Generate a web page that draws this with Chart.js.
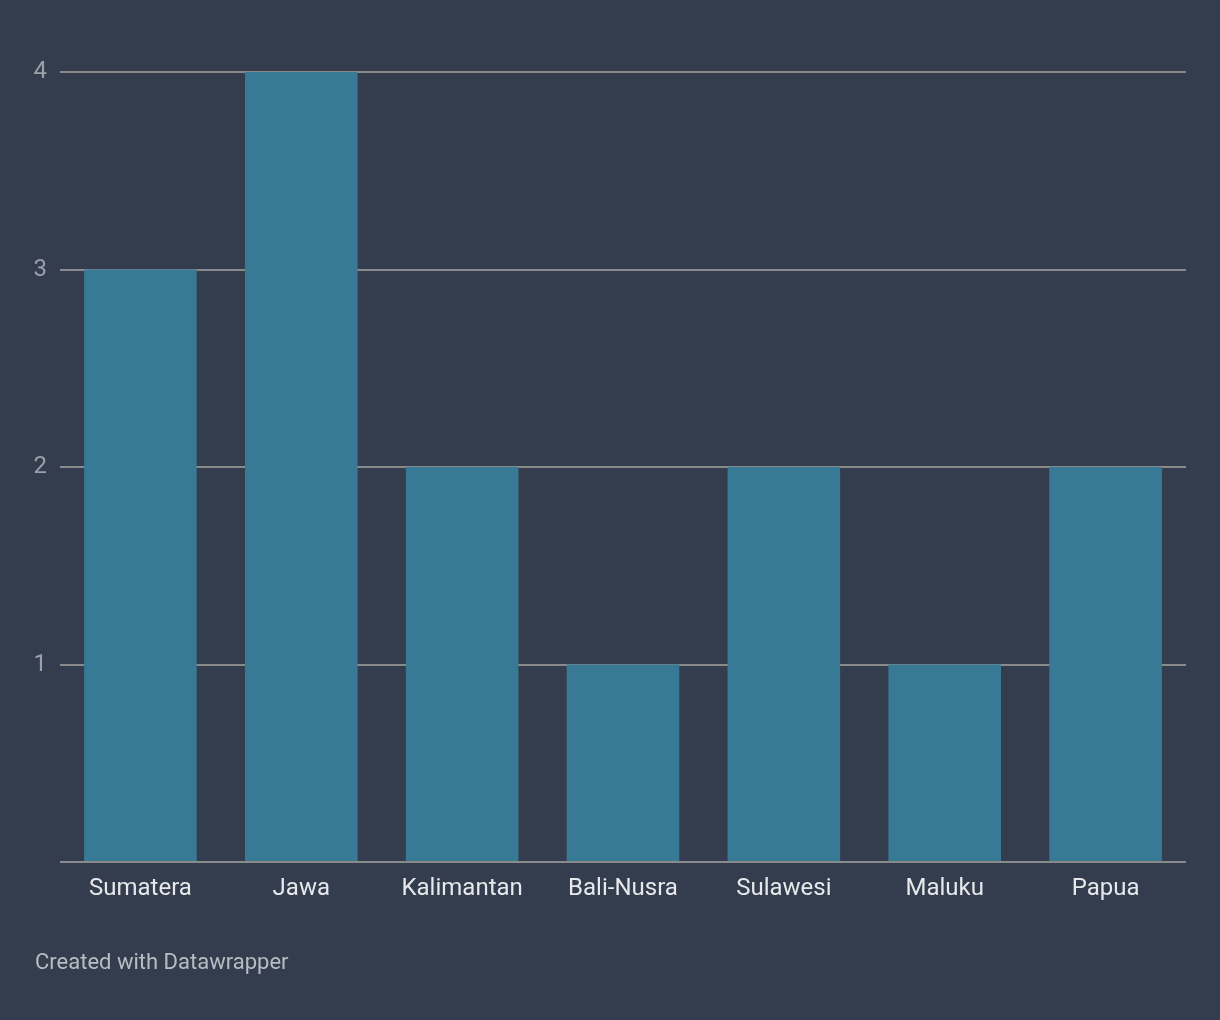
<!DOCTYPE html>
<html>
<head>
<meta charset="utf-8">
<script src="https://cdn.jsdelivr.net/npm/chart.js@4.4.0/dist/chart.umd.min.js"></script>
<style>
  html, body { margin: 0; padding: 0; background: #333d4d; }
  #wrap { position: relative; width: 1220px; height: 1020px; }
  #footer {
    position: absolute; left: 35px; top: 949px;
    font-family: Roboto, sans-serif; font-size: 22px; color: #b9bdc3;
  }
</style>
</head>
<body>
<div id="wrap">
  <canvas id="chart" width="1220" height="1020"></canvas>
  <div id="footer">Created with Datawrapper</div>
</div>
<script>
// regions and count per region
const regions = ['Sumatera', 'Jawa', 'Kalimantan', 'Bali-Nusra', 'Sulawesi', 'Maluku', 'Papua'];
const counts = [3, 4, 2, 1, 2, 1, 2];
const yTicks = [0, 1, 2, 3, 4];

const ctx = document.getElementById('chart').getContext('2d');

new Chart(ctx, {
  type: 'bar',
  data: {
    labels: regions,
    datasets: [{
      data: counts,
      backgroundColor: '#387a96',
      borderWidth: 0,
      categoryPercentage: 1,
      barPercentage: 0.7
    }]
  },
  options: {
    responsive: false,
    animation: false,
    layout: { padding: { top: 72, right: 34, bottom: 108, left: 0 } },
    plugins: { legend: { display: false }, tooltip: { enabled: false } },
    scales: {
      x: {
        grid: { display: false },
        border: { display: false },
        ticks: {
          color: '#e6e8eb',
          font: { family: 'Roboto', size: 24 },
          padding: 5,
          maxRotation: 0
        },
        afterFit: (scale) => { scale.height = 50; }
      },
      y: {
        min: 0,
        max: 4,
        afterBuildTicks: (scale) => { scale.ticks = yTicks.map(v => ({ value: v })); },
        grid: { color: '#8a8a8a', lineWidth: 2, drawTicks: false },
        border: { display: false },
        ticks: {
          color: '#9aa0a8',
          font: { family: 'Roboto', size: 24 },
          padding: 13,
          callback: (v) => v === 0 ? '' : v
        },
        afterFit: (scale) => { scale.width = 60; }
      }
    }
  }
});
</script>
</body>
</html>
